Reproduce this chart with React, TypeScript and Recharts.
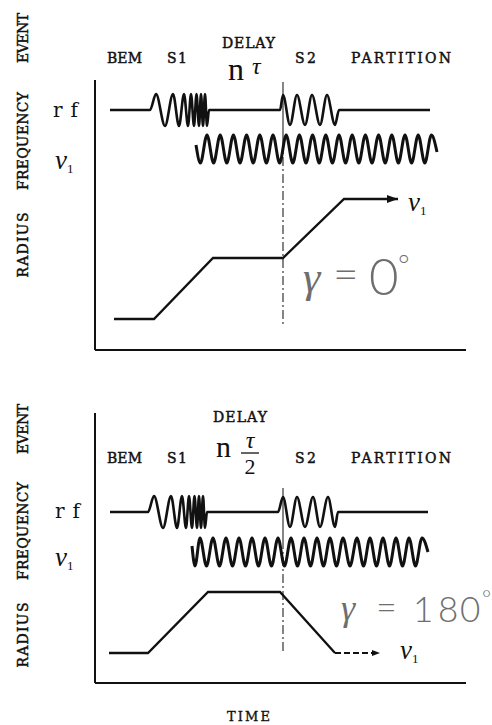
import React from "react";
import { ComposedChart, Line, XAxis, YAxis, ReferenceLine } from "recharts";

// ---- shared axis domains (arbitrary time / level units) ----
const TIME_DOMAIN: [number, number] = [0, 371];
const LEVEL_DOMAIN: [number, number] = [0, 270];

// ---- Panel A : gamma = 0 deg ----
const rfTimeA = [15, 55, 61, 70, 78, 84, 89, 93, 96, 99, 101.5, 104, 106, 108, 110, 112, 114, 185, 188, 195, 202, 210, 217, 225, 232, 240, 244, 335];
const rfLevelA = [240, 240, 256, 224, 256, 224, 256, 224, 256, 224, 256, 224, 256, 224, 256, 224, 240, 240, 255, 225, 255, 225, 255, 225, 255, 225, 240, 240];
const nuTimeA = [101, 105.4, 112, 118.6, 125.2, 131.8, 138.4, 145, 151.6, 158.2, 164.8, 171.4, 178, 184.6, 191.2, 197.8, 204.4, 211, 217.6, 224.2, 230.8, 237.4, 244, 250.6, 257.2, 263.8, 270.4, 277, 283.6, 290.2, 296.8, 303.4, 310, 316.6, 323.2, 329.8, 336.4, 342];
const nuLevelA = [205, 187, 215, 187, 215, 187, 215, 187, 215, 187, 215, 187, 215, 187, 215, 187, 215, 187, 215, 187, 215, 187, 215, 187, 215, 187, 215, 187, 215, 187, 215, 187, 215, 187, 215, 187, 215, 198];
const radiusTimeA = [19, 59, 118, 188, 249, 303];
const radiusLevelA = [31, 31, 92, 92, 151, 151];
const markerTimeA = 188;
const markerSolidA = [268, 210];
const markerDashA = [210, 25];

// ---- Panel B : gamma = 180 deg ----
const rfTimeB = [15, 53, 59, 68, 76, 82, 87, 91, 94, 97, 99.5, 102, 104, 106, 108, 110, 112, 183, 188, 195, 202, 210, 218, 225, 233, 240, 243, 333];
const rfLevelB = [171, 171, 187, 155, 187, 155, 187, 155, 187, 155, 187, 155, 187, 155, 187, 155, 171, 171, 186, 156, 186, 156, 186, 156, 186, 156, 171, 171];
const nuTimeB = [97, 100, 105, 111.5, 118, 124.5, 131, 137.5, 144, 150.5, 157, 163.5, 170, 176.5, 183, 189.5, 196, 202.5, 209, 215.5, 222, 228.5, 235, 241.5, 248, 255, 262, 268.5, 275, 281.5, 288, 294.5, 301, 307.5, 314, 320.5, 327, 333];
const nuLevelB = [137, 117, 145, 117, 145, 117, 145, 117, 145, 117, 145, 117, 145, 117, 145, 117, 145, 117, 145, 117, 145, 117, 145, 117, 145, 117, 145, 117, 145, 117, 145, 117, 145, 117, 145, 117, 145, 131];
const radiusTimeB = [14, 53, 113, 185, 240];
const radiusLevelB = [30, 30, 91, 91, 30];
const radiusTailTimeB = [240, 285];
const radiusTailLevelB = [30, 30];
const markerTimeB = 188;
const markerSolidB = [195, 143];
const markerDashB = [143, 30];

// ---- text ----
const eventLabels = ["BEM", "S1", "S2", "PARTITION"];
const axisWords = ["EVENT", "FREQUENCY", "RADIUS"];

const INK = "#111";
const TYPE = "'DejaVu Serif', 'Liberation Serif', serif";
const SERIF = "'Liberation Serif', 'Times New Roman', serif";
const THIN = "Lato, 'DejaVu Sans', sans-serif";

const zip = (ts: number[], vs: number[]) => ts.map((t, i) => ({ t, v: vs[i] }));

function makeArrow(lastIndex: number, len: number, half: number) {
  return (p: any) => {
    const { cx, cy, index } = p;
    if (index !== lastIndex || cx == null || cy == null) return <g key={`d${index}`} />;
    return (
      <polygon
        key={`d${index}`}
        points={`${cx},${cy} ${cx - len},${cy - half} ${cx - len},${cy + half}`}
        fill={INK}
        stroke="none"
      />
    );
  };
}

type Pt = { t: number; v: number };
type PanelProps = {
  top: number;
  height: number;
  margin: { top: number; right: number; bottom: number; left: number };
  rf: Pt[];
  nu: Pt[];
  radius: Pt[];
  radiusArrow: boolean;
  tail?: Pt[];
  markerT: number;
  solid: number[];
  dash: number[];
};

function Panel(props: PanelProps) {
  const { top, height, margin, rf, nu, radius, radiusArrow, tail, markerT, solid, dash } = props;
  return (
    <div style={{ position: "absolute", left: 0, top, width: 492, height }}>
      <ComposedChart width={492} height={height} margin={margin}>
        <XAxis type="number" dataKey="t" domain={TIME_DOMAIN} scale="linear" allowDataOverflow hide />
        <YAxis type="number" domain={LEVEL_DOMAIN} scale="linear" allowDataOverflow hide />
        {/* axis frame (left and bottom) */}
        <ReferenceLine x={TIME_DOMAIN[0]} stroke={INK} strokeWidth={2} />
        <ReferenceLine y={LEVEL_DOMAIN[0]} stroke={INK} strokeWidth={2} />
        <ReferenceLine
          segment={[{ x: markerT, y: solid[0] }, { x: markerT, y: solid[1] }]}
          stroke="#222"
          strokeWidth={1.1}
        />
        <ReferenceLine
          segment={[{ x: markerT, y: dash[0] }, { x: markerT, y: dash[1] }]}
          stroke="#222"
          strokeWidth={1.1}
          strokeDasharray="9 3 2 3"
        />
        <Line data={rf} dataKey="v" type="monotone" stroke={INK} strokeWidth={2.6} dot={false} activeDot={false} isAnimationActive={false} />
        <Line data={nu} dataKey="v" type="monotone" stroke={INK} strokeWidth={3} dot={false} activeDot={false} isAnimationActive={false} />
        <Line
          data={radius}
          dataKey="v"
          type="linear"
          stroke={INK}
          strokeWidth={2.3}
          dot={radiusArrow ? makeArrow(radius.length - 1, 11, 4) : false}
          activeDot={false}
          isAnimationActive={false}
        />
        {tail ? (
          <Line
            data={tail}
            dataKey="v"
            type="linear"
            stroke={INK}
            strokeWidth={2}
            strokeDasharray="6 3"
            dot={makeArrow(tail.length - 1, 8, 3)}
            activeDot={false}
            isAnimationActive={false}
          />
        ) : null}
      </ComposedChart>
    </div>
  );
}

const hdr = { fontFamily: TYPE, fontSize: 14, fill: INK, stroke: INK, strokeWidth: 0.45, lengthAdjust: "spacing" } as const;
const side = { fontFamily: TYPE, fontSize: 14, fill: INK, stroke: INK, strokeWidth: 0.45, textAnchor: "middle", lengthAdjust: "spacing" } as const;

function Nu({ x, y }: { x: number; y: number }) {
  return (
    <text x={x} y={y} fontFamily={SERIF} fontStyle="italic" fontSize={27} fill={INK}>
      ν
      <tspan fontStyle="normal" fontSize={13} dy={4}>
        1
      </tspan>
    </text>
  );
}

function SideWord({ cy, word, len }: { cy: number; word: string; len: number }) {
  return (
    <text transform={`rotate(-90 28 ${cy})`} x={28} y={cy} textLength={len} {...side}>
      {word}
    </text>
  );
}

function Overlay() {
  return (
    <svg width={492} height={725} style={{ position: "absolute", left: 0, top: 0, pointerEvents: "none" }}>
      {/* panel A side words */}
      <SideWord cy={38} word={axisWords[0]} len={50} />
      <SideWord cy={141} word={axisWords[1]} len={98} />
      <SideWord cy={245} word={axisWords[2]} len={65} />
      {/* panel B side words */}
      <SideWord cy={429} word={axisWords[0]} len={50} />
      <SideWord cy={531} word={axisWords[1]} len={98} />
      <SideWord cy={635} word={axisWords[2]} len={65} />

      {/* panel A headers */}
      <text x={107} y={63} textLength={35} {...hdr}>{eventLabels[0]}</text>
      <text x={167} y={63} textLength={20} {...hdr}>{eventLabels[1]}</text>
      <text x={222} y={48} textLength={53} {...hdr}>DELAY</text>
      <text x={295} y={63} textLength={21} {...hdr}>{eventLabels[2]}</text>
      <text x={351} y={63} textLength={100} {...hdr}>{eventLabels[3]}</text>
      <text x={228} y={80} fontFamily={SERIF} fontSize={32} fill={INK}>n</text>
      <text x={252} y={74} fontFamily={SERIF} fontStyle="italic" fontSize={24} fill={INK}>τ</text>

      {/* panel B headers */}
      <text x={107} y={463} textLength={35} {...hdr}>{eventLabels[0]}</text>
      <text x={167} y={463} textLength={20} {...hdr}>{eventLabels[1]}</text>
      <text x={213} y={422} textLength={54} {...hdr}>DELAY</text>
      <text x={295} y={463} textLength={21} {...hdr}>{eventLabels[2]}</text>
      <text x={351} y={463} textLength={100} {...hdr}>{eventLabels[3]}</text>
      <text x={216} y={457} fontFamily={SERIF} fontSize={30} fill={INK}>n</text>
      <text x={250} y={448} textAnchor="middle" fontFamily={SERIF} fontStyle="italic" fontSize={24} fill={INK}>τ</text>
      <line x1={241} y1={453} x2={259} y2={453} stroke={INK} strokeWidth={1.3} />
      <text x={250} y={474} textAnchor="middle" fontFamily={SERIF} fontSize={22} fill={INK}>2</text>

      {/* row labels */}
      <text x={53} y={117} fontFamily={TYPE} fontSize={20} textLength={25} lengthAdjust="spacing" fill={INK}>rf</text>
      <Nu x={55} y={169} />
      <text x={55} y={518} fontFamily={TYPE} fontSize={20} textLength={25} lengthAdjust="spacing" fill={INK}>rf</text>
      <Nu x={55} y={566} />

      {/* arrow end labels */}
      <Nu x={408} y={211} />
      <Nu x={400} y={659} />

      {/* gamma annotations */}
      <g fill="#6e6e6e" fontFamily={THIN} fontWeight={300}>
        <text x={303} y={292} fontFamily={SERIF} fontStyle="italic" fontSize={44}>γ</text>
        <text x={333} y={290} fontSize={44}>=</text>
        <text x={369} y={295} fontSize={51}>0</text>
        <text x={398} y={275} fontSize={28}>°</text>

        <text x={341} y={620} fontFamily={SERIF} fontStyle="italic" fontSize={36}>γ</text>
        <text x={376} y={620} fontSize={36}>=</text>
        <text x={413} y={622} fontSize={35}>1</text>
        <text x={438} y={622} fontSize={35}>8</text>
        <text x={460} y={622} fontSize={35}>0</text>
        <text x={482} y={606} fontSize={22}>°</text>
      </g>

      <text x={227} y={721} textLength={43} lengthAdjust="spacing" fontFamily={TYPE} fontSize={13} fill={INK} stroke={INK} strokeWidth={0.35}>TIME</text>
    </svg>
  );
}

export default function App() {
  return (
    <div style={{ position: "absolute", left: 0, top: 0, width: 492, height: 725, background: "#fff", overflow: "hidden" }}>
      <Panel
        top={0}
        height={362}
        margin={{ top: 80, right: 26, bottom: 12, left: 95 }}
        rf={zip(rfTimeA, rfLevelA)}
        nu={zip(nuTimeA, nuLevelA)}
        radius={zip(radiusTimeA, radiusLevelA)}
        radiusArrow={true}
        markerT={markerTimeA}
        solid={markerSolidA}
        dash={markerDashA}
      />
      <Panel
        top={362}
        height={363}
        margin={{ top: 51, right: 26, bottom: 42, left: 95 }}
        rf={zip(rfTimeB, rfLevelB)}
        nu={zip(nuTimeB, nuLevelB)}
        radius={zip(radiusTimeB, radiusLevelB)}
        radiusArrow={false}
        tail={zip(radiusTailTimeB, radiusTailLevelB)}
        markerT={markerTimeB}
        solid={markerSolidB}
        dash={markerDashB}
      />
      <Overlay />
    </div>
  );
}
